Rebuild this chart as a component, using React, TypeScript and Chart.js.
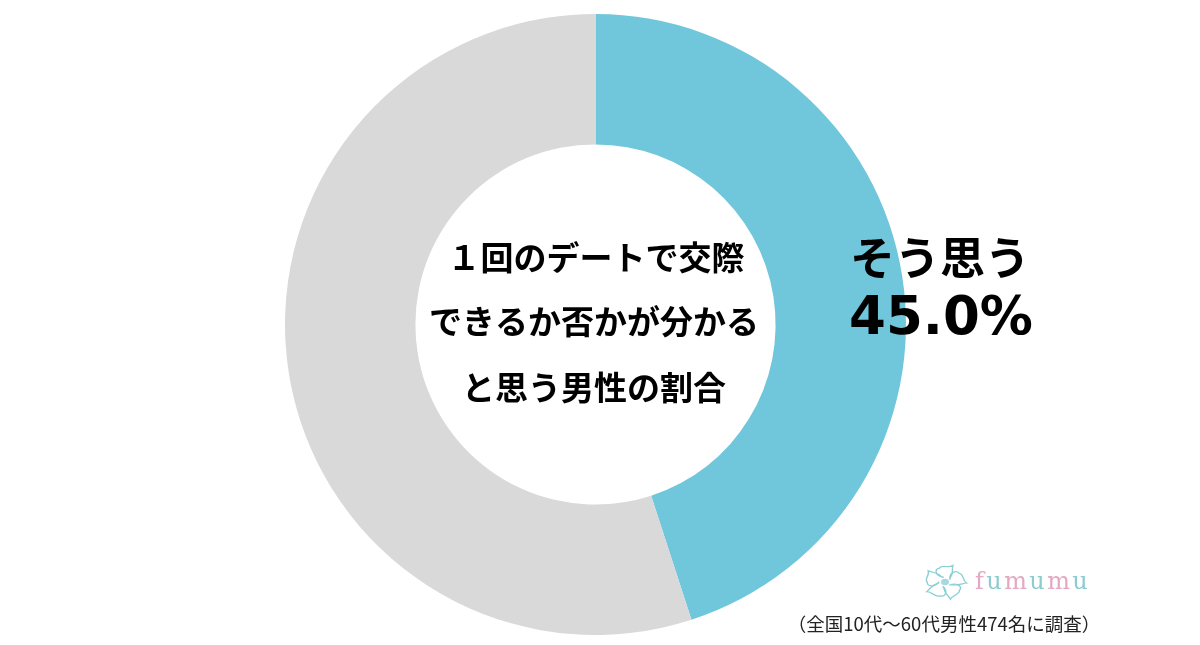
import { useEffect, useRef } from "react"
import { Chart, registerables, Plugin } from "chart.js"

Chart.register(...registerables)

const categories = ["そう思う", "そう思わない"]
const values = [45.0, 55.0]
const colors = ["#70c7dc", "#d9d9d9"]
const centerLines = ["１回のデートで交際", "できるか否かが分かる", "と思う男性の割合"]
const sliceTitle = categories[0]
const sliceValue = "45.0%"
const note = "（全国10代～60代男性474名に調査）"
const brandLetters = ["f", "u", "m", "u", "m", "u"]
const brandColors = ["#e3a9c2", "#8ccbcf", "#e3a9c2", "#8ccbcf", "#e3a9c2", "#8ccbcf"]

const jp = '"Noto Sans CJK JP"'

// small flower logo next to the brand name, petals twisted like a pinwheel
function drawFlower(ctx: CanvasRenderingContext2D, cx: number, cy: number) {
  ctx.save()
  ctx.translate(cx, cy)
  ctx.scale(1.12, 0.92)
  ctx.strokeStyle = "#8ccfd6"
  ctx.lineWidth = 1.3
  for (let i = 0; i < 5; i++) {
    ctx.save()
    ctx.rotate((i * 2 * Math.PI) / 5)
    ctx.beginPath()
    ctx.moveTo(-1, -5)
    ctx.bezierCurveTo(-10, -7, -9, -14, -5, -15)
    ctx.bezierCurveTo(-3, -19, 3, -15, 7, -18)
    ctx.bezierCurveTo(6, -12, 8, -9, 4, -4)
    ctx.stroke()
    ctx.restore()
  }
  ctx.fillStyle = "#a5d9df"
  ctx.beginPath()
  ctx.arc(0, 0, 3.5, 0, 2 * Math.PI)
  ctx.fill()
  ctx.restore()
}

const overlayText: Plugin<"doughnut"> = {
  id: "overlayText",
  afterDraw(chart) {
    const { ctx } = chart
    ctx.save()
    ctx.textAlign = "center"
    ctx.textBaseline = "middle"
    ctx.fillStyle = "#000"

    ctx.font = `bold 33px ${jp}`
    ctx.fillText(centerLines[0], 596, 257)
    ctx.fillText(centerLines[1], 594, 321)
    ctx.fillText(centerLines[2], 594, 387)

    ctx.font = `bold 45px ${jp}`
    ctx.fillText(sliceTitle, 940, 258)
    ctx.font = 'bold 53px "DejaVu Sans"'
    ctx.fillText(sliceValue, 941, 320)

    ctx.font = `18.5px ${jp}`
    ctx.fillStyle = "#222"
    ctx.fillText(note, 944, 624)

    ctx.font = '24px "DejaVu Serif"'
    ctx.textAlign = "left"
    let x = 975
    brandLetters.forEach((letter, i) => {
      ctx.fillStyle = brandColors[i]
      ctx.fillText(letter, x, 583)
      x += ctx.measureText(letter).width + 2.4
    })

    drawFlower(ctx, 945, 582)
    ctx.restore()
  },
}

export default function App() {
  const canvasRef = useRef<HTMLCanvasElement>(null)

  useEffect(() => {
    if (!canvasRef.current) return
    document.body.style.margin = "0"

    const chart = new Chart(canvasRef.current, {
      type: "doughnut",
      data: {
        labels: categories,
        datasets: [{ data: values, backgroundColor: colors, borderWidth: 0 }],
      },
      options: {
        responsive: false,
        animation: false,
        cutout: "58%",
        layout: { padding: { left: 285, right: 294, top: 14, bottom: 10 } },
        plugins: {
          legend: { display: false },
          tooltip: { enabled: false },
        },
      },
      plugins: [overlayText],
    })

    return () => chart.destroy()
  }, [])

  return <canvas ref={canvasRef} width={1200} height={645} style={{ display: "block" }} />
}
